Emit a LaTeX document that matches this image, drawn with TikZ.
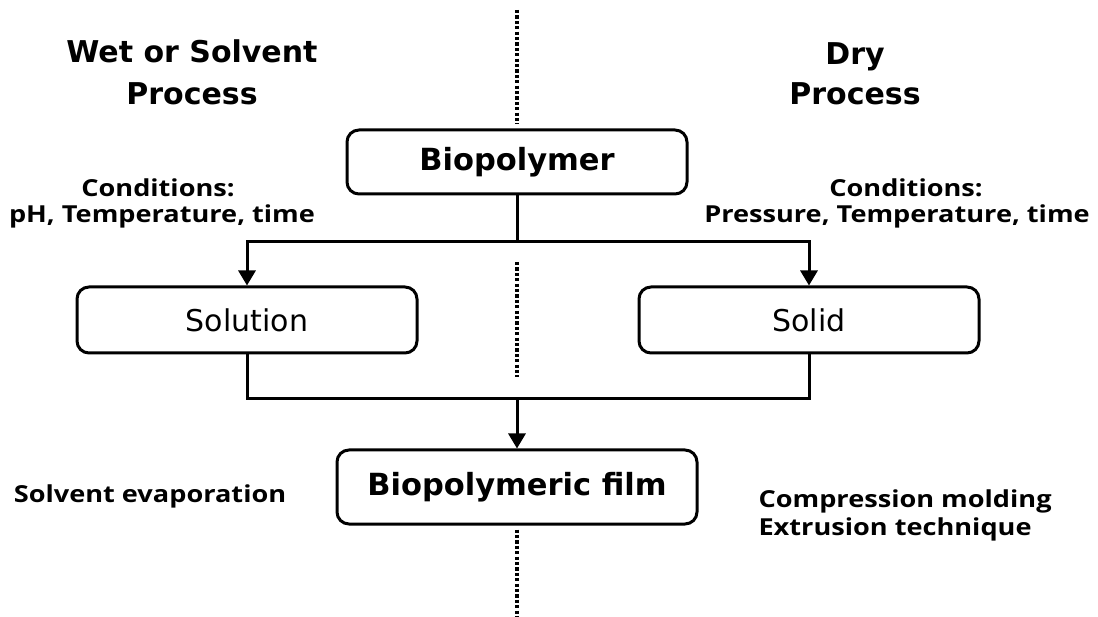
\documentclass[tikz,border=0pt]{standalone}
\usepackage{fontspec}
\setmainfont{DejaVu Sans}
\newfontfamily\condfont[FakeStretch=1.16]{Open Sans}
\usetikzlibrary{arrows.meta}
\tikzset{
  box/.style={draw, line width=3pt, rounded corners=12pt, inner sep=0pt},
  conn/.style={line width=3pt},
  arr/.style={line width=3pt, -{Triangle[length=15pt,width=17pt]}},
  dotline/.style={line width=3.4pt, dash pattern=on 3.2pt off 2.2pt},
  head/.style={anchor=base, font=\fontsize{30}{36}\selectfont\bfseries},
  cond/.style={anchor=base, font=\fontsize{23.4}{28}\selectfont\condfont\bfseries},
  condl/.style={anchor=base west, font=\fontsize{23.4}{28}\selectfont\condfont\bfseries},
}
\begin{document}
\begin{tikzpicture}[x=1pt,y=-1pt]
\useasboundingbox (0,0) rectangle (1098,617);
% boxes
\node[box, minimum width=340pt, minimum height=64pt, font=\fontsize{30.5}{36}\selectfont\bfseries] (bio) at (517,162) {Biopolymer};
\node[box, minimum width=340pt, minimum height=66pt, font=\fontsize{30}{36}\selectfont] (sol) at (247,320) {Solution};
\node[box, minimum width=340pt, minimum height=66pt, font=\fontsize{30}{36}\selectfont] (sod) at (809,320) {Solid};
\node[box, minimum width=360pt, minimum height=74pt, font=\fontsize{30.5}{36}\selectfont\bfseries] (film) at (517,487) {Biopolymeric film};
% dotted divider
\coordinate (d1a) at (517,10);
\coordinate (d2a) at (517,262);
\coordinate (d2b) at (517,377);
\coordinate (d3b) at (517,617);
\draw[dotline] (d1a) -- ([yshift=5pt]bio.north);
\draw[dotline] (d2a) -- (d2b);
\draw[dotline] ([yshift=-4pt]film.south) -- (d3b);
% connectors
\coordinate (jtop) at (517,242);
\coordinate (jbot) at (517,399);
\draw[conn] (bio.south) -- (jtop);
\draw[arr] (jtop) -| (sol.north);
\draw[arr] (jtop) -| (sod.north);
\draw[conn] (sol.south) |- (jbot) -| (sod.south);
\draw[arr] (jbot) -- (film.north);
% headings
\node[head] (wet1) at (192,63) {Wet or Solvent};
\node[head] (wet2) at (192,105) {Process};
\node[head] (dry1) at (855,65) {Dry};
\node[head] (dry2) at (855,105) {Process};
% conditions
\node[cond] (cl1) at (158,197) {Conditions:};
\node[cond] (cl2) at (162,223) {pH, Temperature, time};
\node[cond] (cr1) at (906,197) {Conditions:};
\node[cond] (cr2) at (897,223) {Pressure, Temperature, time};
% methods
\node[cond] (sev) at (150,502) {Solvent evaporation};
\node[condl] (cm) at (755,507) {Compression molding};
\node[condl] (ext) at (755,535) {Extrusion technique};
\end{tikzpicture}
\end{document}
